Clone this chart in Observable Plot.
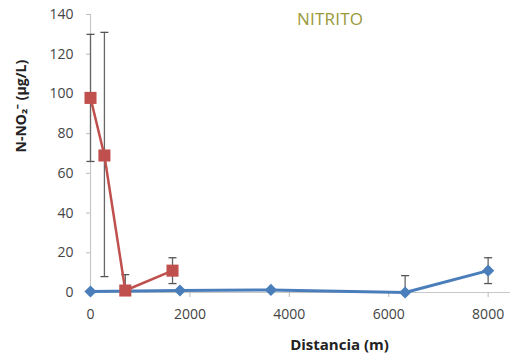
<!DOCTYPE html>
<html>
<head>
<meta charset="utf-8">
<script src="https://cdn.jsdelivr.net/npm/d3@7"></script>
<script src="https://cdn.jsdelivr.net/npm/@observablehq/plot@0.6"></script>
<style>
  html, body { margin: 0; padding: 0; background: #fff; }
  #wrap { position: relative; width: 514px; height: 353px; }
  #title { position: absolute; left: 297px; top: 7px; font-family: "Open Sans", sans-serif; font-size: 17px; color: #9a983a; letter-spacing: 0.2px; z-index: 2; }
</style>
</head>
<body>
<div id="wrap"><div id="title"></div></div>
<script>
const title = "NITRITO";
const xLabel = "Distancia (m)";
const yLabel = "N-NO\u2082\u207B (µg/L)";
const xTicks = [0, 2000, 4000, 6000, 8000];
const yTicks = [0, 20, 40, 60, 80, 100, 120, 140];

// Red series (squares)
const redX = [0, 280, 700, 1650];
const redY = [98, 69, 1, 11];
const redLo = [66, 8, 1, 4.5];
const redHi = [130, 131, 9, 17.5];

// Blue series (diamonds)
const blueX = [0, 1800, 3630, 6330, 8000];
const blueY = [0.5, 1, 1.3, 0, 11];
const blueLo = [null, null, null, 0, 4.5];
const blueHi = [null, null, null, 8.5, 17.5];

document.getElementById("title").textContent = title;

const red = redX.map((x, i) => ({x, y: redY[i], lo: redLo[i], hi: redHi[i]}));
const blue = blueX.map((x, i) => ({x, y: blueY[i], lo: blueLo[i], hi: blueHi[i]}));
const errs = [...red, ...blue].filter(d => d.hi != null);
const caps = errs.flatMap(d => [{x: d.x, y: d.lo}, {x: d.x, y: d.hi}]);

const capSymbol = {
  draw(context, size) {
    const w = 4;
    context.moveTo(-w, 0);
    context.lineTo(w, 0);
  }
};

const redC = "#c0504d";
const blueC = "#4a7ebb";

const chart = Plot.plot({
  width: 514,
  height: 353,
  marginLeft: 90,
  marginRight: 4,
  marginTop: 14,
  marginBottom: 61,
  style: {fontFamily: "'Open Sans', sans-serif", fontSize: "14px", background: "transparent"},
  x: {domain: [0, 8450]},
  y: {domain: [0, 140]},
  marks: [
    Plot.ruleX([0], {stroke: "#c8c8c8", strokeWidth: 1.2}),
    Plot.ruleY([0], {stroke: "#c8c8c8", strokeWidth: 1.2}),
    Plot.axisY({ticks: yTicks, tickSize: 4, tickPadding: 13, stroke: "#bbb", fill: "#444", label: null, fontSize: 14}),
    Plot.axisX({ticks: xTicks, tickFormat: "d", tickSize: 5, tickPadding: 12, stroke: "#bbb", fill: "#444", label: null, fontSize: 14}),
    Plot.ruleX(errs, {x: "x", y1: "lo", y2: "hi", stroke: "#666", strokeWidth: 1.3}),
    Plot.dot(caps, {x: "x", y: "y", symbol: capSymbol, stroke: "#555", strokeWidth: 1.3, r: 4}),
    Plot.line(blue, {x: "x", y: "y", stroke: blueC, strokeWidth: 3}),
    Plot.dot(blue, {x: "x", y: "y", symbol: "diamond2", fill: blueC, r: 5.5}),
    Plot.line(red, {x: "x", y: "y", stroke: redC, strokeWidth: 2.5}),
    Plot.dot(red, {x: "x", y: "y", symbol: "square", fill: redC, r: 6.8}),
    Plot.text([xLabel], {frameAnchor: "bottom", dy: 57, dx: 39, fontWeight: "bold", fontSize: 15, fill: "#222"}),
    Plot.text([yLabel], {frameAnchor: "left", rotate: -90, dx: -69, dy: -1, fontWeight: "bold", fontSize: 14, fill: "#222"})
  ]
});
document.getElementById("wrap").appendChild(chart);
chart.style.position = "absolute";
chart.style.left = "0";
chart.style.top = "0";
</script>
</body>
</html>
